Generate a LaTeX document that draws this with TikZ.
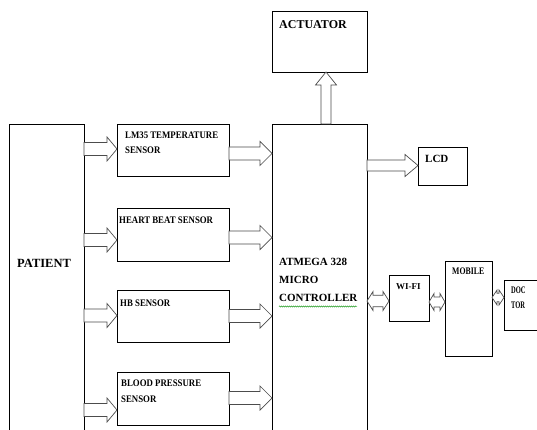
\documentclass[tikz,border=0pt]{standalone}
\usepackage{fontspec}
\setmainfont{Liberation Serif}
\newfontfamily\condf[FakeStretch=0.88]{Liberation Serif}
\newfontfamily\condm[FakeStretch=0.78]{Liberation Serif}
\newfontfamily\condg[FakeStretch=0.65]{Liberation Serif}
\usetikzlibrary{calc,decorations.pathmorphing}
\tikzset{
  box/.style={draw=black, line width=0.8pt, inner sep=0pt, outer sep=0pt, anchor=north west},
  barrow/.style={draw=black!70, line width=0.7pt, fill=white},
  lbl/.style={anchor=north west, inner sep=0pt, align=left, font=\bfseries},
}
% right block arrow: from, to, y, shaft half, head half, head length
\newcommand\rarr[6]{\draw[barrow] let \p1=(#1.east), \p2=(#2.west) in
  (\x1,-#3pt+#4pt) -- (\x2-#6pt,-#3pt+#4pt) -- (\x2-#6pt,-#3pt+#5pt) -- (\x2,-#3pt)
  -- (\x2-#6pt,-#3pt-#5pt) -- (\x2-#6pt,-#3pt-#4pt) -- (\x1,-#3pt-#4pt) -- cycle;}
% up block arrow: from, to, x, shaft half, head half, head length
\newcommand\uarr[6]{\draw[barrow] let \p1=(#1.north), \p2=(#2.south) in
  (#3pt-#4pt,\y1) -- (#3pt-#4pt,\y2-#6pt) -- (#3pt-#5pt,\y2-#6pt) -- (#3pt,\y2)
  -- (#3pt+#5pt,\y2-#6pt) -- (#3pt+#4pt,\y2-#6pt) -- (#3pt+#4pt,\y1) -- cycle;}
% double block arrow: from, to, y, shaft half, head half, head length
\newcommand\darr[6]{\draw[barrow] let \p1=(#1.east), \p2=(#2.west) in
  (\x1,-#3pt) -- (\x1+#6pt,-#3pt+#5pt) -- (\x1+#6pt,-#3pt+#4pt) -- (\x2-#6pt,-#3pt+#4pt)
  -- (\x2-#6pt,-#3pt+#5pt) -- (\x2,-#3pt) -- (\x2-#6pt,-#3pt-#5pt) -- (\x2-#6pt,-#3pt-#4pt)
  -- (\x1+#6pt,-#3pt-#4pt) -- (\x1+#6pt,-#3pt-#5pt) -- cycle;}
\begin{document}
\begin{tikzpicture}[x=1pt,y=-1pt]
\useasboundingbox[fill=white] (0,0) rectangle (537,430);
\clip (0,0) rectangle (537,430);
% boxes
\node[box, minimum width=75pt, minimum height=330pt] (pat) at (9,124) {};
\node[box, minimum width=95pt, minimum height=330pt] (mcu) at (272,124) {};
\node[box, minimum width=95pt, minimum height=61pt] (act) at (272,11) {};
\node[box, minimum width=112pt, minimum height=52pt] (lm) at (117,124) {};
\node[box, minimum width=112pt, minimum height=53pt] (hrt) at (117,208) {};
\node[box, minimum width=112pt, minimum height=52pt] (hb) at (117,290) {};
\node[box, minimum width=112pt, minimum height=53pt] (bp) at (117,372) {};
\node[box, minimum width=49pt, minimum height=38pt] (lcd) at (418,147) {};
\node[box, minimum width=40pt, minimum height=46pt] (wifi) at (389,275) {};
\node[box, minimum width=47pt, minimum height=95pt] (mob) at (445,261) {};
\node[box, minimum width=45pt, minimum height=50pt] (doc) at (504,280) {};
% labels
\node[lbl, font=\bfseries\fontsize{12.5}{14}\selectfont] (patl) at (17,259) {PATIENT};
\node[lbl, font=\bfseries\fontsize{12}{14}\selectfont] (actl) at (279,20) {ACTUATOR};
\node[lbl, font=\bfseries\condf\fontsize{10}{14.5}\selectfont] (lml) at (125,132) {LM35 TEMPERATURE\\SENSOR};
\node[lbl, font=\bfseries\condf\fontsize{10}{14.5}\selectfont] (hrtl) at (119,217) {HEART BEAT SENSOR};
\node[lbl, font=\bfseries\condf\fontsize{10}{14.5}\selectfont] (hbl) at (120,300) {HB SENSOR};
\node[lbl, font=\bfseries\condf\fontsize{10}{16}\selectfont] (bpl) at (121,380) {BLOOD PRESSURE\\SENSOR};
\node[lbl, font=\bfseries\fontsize{11}{18.2}\selectfont] (mcul) at (279,258) {ATMEGA 328\\MICRO\\CONTROLLER};
\node[lbl, font=\bfseries\fontsize{11}{14}\selectfont] (lcdl) at (425,155) {LCD};
\node[lbl, font=\bfseries\fontsize{9}{12}\selectfont] (wifil) at (396,283) {WI-FI};
\node[lbl, font=\bfseries\condm\fontsize{10}{12}\selectfont] (mobl) at (452,268) {MOBILE};
\node[lbl, font=\bfseries\condg\fontsize{10}{15}\selectfont] (docl) at (511,286.5) {DOC\\TOR};
% spell-check squiggle
\draw[green!55!black, line width=0.4pt, decorate, decoration={snake, amplitude=0.6pt, segment length=2pt}] (279,306.5) -- (357,306.5);
% arrows patient -> sensors
\rarr{pat}{lm}{149}{6.5}{12}{10}
\rarr{pat}{hrt}{240}{6.5}{12}{10}
\rarr{pat}{hb}{315.5}{6.5}{12}{10}
\rarr{pat}{bp}{410}{6.5}{12}{10}
% sensors -> mcu
\rarr{lm}{mcu}{153.5}{6.5}{12}{12}
\rarr{hrt}{mcu}{237.5}{6.5}{12}{12}
\rarr{hb}{mcu}{316}{6.5}{12}{12}
\rarr{bp}{mcu}{398}{6.5}{12}{12}
% mcu -> lcd, actuator
\rarr{mcu}{lcd}{165.5}{5.5}{11}{13}
\uarr{mcu}{act}{326}{5}{10.5}{13}
% double arrows
\darr{mcu}{wifi}{301}{5.8}{9.5}{6}
\darr{wifi}{mob}{302}{5}{8.5}{5}
\darr{mob}{doc}{297.5}{4.2}{7.5}{5}
\end{tikzpicture}
\end{document}
